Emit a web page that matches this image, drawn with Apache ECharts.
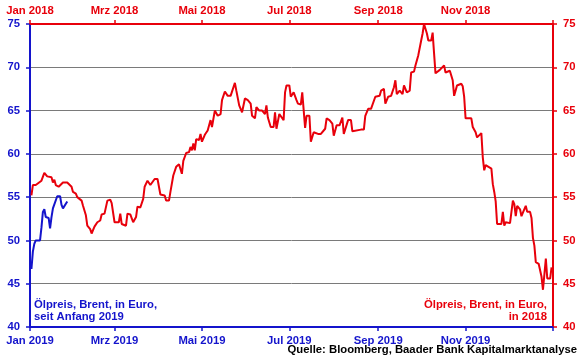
<!DOCTYPE html>
<html>
<head>
<meta charset="utf-8">
<script src="https://cdn.jsdelivr.net/npm/echarts@6/dist/echarts.min.js"></script>
<style>html,body{margin:0;padding:0;background:#fff;}#c{width:580px;height:359px;}</style>
</head>
<body>
<div id="c"></div>
<script>
// 2018 Brent oil price in EUR (red, top/right axes)
const red2018 = [
['2018-01-02',55.2],['2018-01-03',56.4],['2018-01-04',56.2],['2018-01-05',56.4],['2018-01-09',56.9],
['2018-01-11',57.8],['2018-01-13',57.4],['2018-01-16',57.3],['2018-01-17',56.7],['2018-01-18',57.0],
['2018-01-19',56.4],['2018-01-21',56.2],['2018-01-24',56.7],['2018-01-27',56.7],['2018-01-30',56.2],
['2018-01-31',55.6],['2018-02-02',55.4],['2018-02-03',55.0],['2018-02-06',54.6],['2018-02-07',54.0],
['2018-02-09',52.9],['2018-02-10',51.7],['2018-02-12',51.3],['2018-02-13',50.8],['2018-02-15',51.6],
['2018-02-17',52.1],['2018-02-19',52.3],['2018-02-20',53.0],['2018-02-22',53.1],['2018-02-24',54.6],
['2018-02-26',54.7],['2018-02-27',54.3],['2018-03-01',52.1],['2018-03-04',52.1],['2018-03-05',53.1],
['2018-03-06',51.9],['2018-03-09',51.7],['2018-03-10',53.1],['2018-03-12',53.0],['2018-03-14',52.1],
['2018-03-16',52.7],['2018-03-17',53.9],['2018-03-19',53.8],['2018-03-21',54.8],['2018-03-22',56.2],
['2018-03-24',56.9],['2018-03-25',56.9],['2018-03-26',56.4],['2018-03-29',57.1],['2018-03-31',57.1],
['2018-04-01',57.0],['2018-04-02',55.3],['2018-04-05',55.2],['2018-04-06',54.6],['2018-04-08',54.6],
['2018-04-09',55.6],['2018-04-11',57.5],['2018-04-13',58.5],['2018-04-15',58.8],['2018-04-17',57.7],
['2018-04-18',59.2],['2018-04-20',60.1],['2018-04-22',60.2],['2018-04-23',60.8],['2018-04-24',60.4],
['2018-04-25',61.2],['2018-04-26',60.4],['2018-04-27',61.7],['2018-04-29',61.6],['2018-04-30',62.3],
['2018-05-01',61.4],['2018-05-03',62.2],['2018-05-05',62.7],['2018-05-06',62.6],['2018-05-07',63.9],
['2018-05-08',63.1],['2018-05-10',65.0],['2018-05-12',64.4],['2018-05-14',64.6],['2018-05-15',66.2],
['2018-05-17',67.2],['2018-05-19',66.7],['2018-05-21',66.7],['2018-05-24',68.2],['2018-05-25',67.3],
['2018-05-27',65.6],['2018-05-28',65.5],['2018-05-29',64.8],['2018-05-31',66.4],['2018-06-02',66.2],
['2018-06-04',65.8],['2018-06-05',64.4],['2018-06-07',64.1],['2018-06-08',65.4],['2018-06-10',65.0],
['2018-06-12',65.0],['2018-06-14',64.6],['2018-06-15',65.6],['2018-06-16',64.2],['2018-06-18',63.1],
['2018-06-20',63.1],['2018-06-21',64.8],['2018-06-22',62.9],['2018-06-24',64.6],['2018-06-25',64.6],
['2018-06-27',63.9],['2018-06-28',67.1],['2018-06-29',67.9],['2018-07-01',67.9],['2018-07-02',66.6],
['2018-07-04',67.1],['2018-07-06',66.2],['2018-07-07',65.8],['2018-07-09',65.7],['2018-07-10',67.1],
['2018-07-12',63.0],['2018-07-13',64.4],['2018-07-15',64.4],['2018-07-16',61.4],['2018-07-18',62.5],
['2018-07-21',62.3],['2018-07-23',62.3],['2018-07-26',62.9],['2018-07-27',64.1],['2018-07-29',63.9],
['2018-07-30',64.0],['2018-07-31',63.5],['2018-08-01',62.1],['2018-08-03',63.3],['2018-08-05',63.3],
['2018-08-07',64.2],['2018-08-08',62.3],['2018-08-11',63.9],['2018-08-13',63.9],['2018-08-14',62.6],
['2018-08-20',62.8],['2018-08-22',62.8],['2018-08-23',64.4],['2018-08-25',65.2],['2018-08-27',65.2],
['2018-08-28',65.0],['2018-08-30',66.6],['2018-09-02',66.7],['2018-09-03',67.3],['2018-09-05',67.5],
['2018-09-06',65.8],['2018-09-08',66.6],['2018-09-10',66.7],['2018-09-12',67.7],['2018-09-13',68.5],
['2018-09-14',66.9],['2018-09-16',67.3],['2018-09-18',66.9],['2018-09-19',67.9],['2018-09-21',67.1],
['2018-09-23',67.3],['2018-09-24',69.4],['2018-09-26',69.5],['2018-09-27',70.2],['2018-09-29',71.4],
['2018-09-30',71.4],['2018-10-01',73.1],['2018-10-02',73.9],['2018-10-03',75.0],['2018-10-05',73.9],
['2018-10-06',73.1],['2018-10-08',73.1],['2018-10-09',74.0],['2018-10-10',71.6],['2018-10-11',69.3],
['2018-10-14',69.7],['2018-10-15',69.7],['2018-10-17',70.2],['2018-10-18',69.4],['2018-10-21',69.6],
['2018-10-22',69.7],['2018-10-23',68.5],['2018-10-24',66.7],['2018-10-25',67.3],['2018-10-26',67.9],
['2018-10-29',68.1],['2018-10-30',67.8],['2018-10-31',66.6],['2018-11-01',64.1],['2018-11-05',64.1],
['2018-11-06',63.1],['2018-11-08',62.5],['2018-11-09',61.9],['2018-11-12',62.4],['2018-11-13',59.6],
['2018-11-14',58.1],['2018-11-15',58.7],['2018-11-17',58.5],['2018-11-19',58.3],['2018-11-20',56.5],
['2018-11-21',55.6],['2018-11-22',54.5],['2018-11-23',51.9],['2018-11-26',51.9],['2018-11-27',53.3],
['2018-11-28',51.7],['2018-11-29',52.1],['2018-12-02',52.0],['2018-12-04',54.6],['2018-12-05',54.2],
['2018-12-06',52.8],['2018-12-07',54.0],['2018-12-09',53.6],['2018-12-10',52.8],['2018-12-11',53.2],
['2018-12-13',54.0],['2018-12-14',53.3],['2018-12-16',53.3],['2018-12-17',52.6],['2018-12-18',50.3],
['2018-12-19',49.4],['2018-12-20',47.5],['2018-12-22',47.3],['2018-12-24',45.8],['2018-12-25',44.3],
['2018-12-26',44.3],['2018-12-27',47.9],['2018-12-28',45.6],['2018-12-30',45.6],['2018-12-31',46.9]
];
// 2019 Brent oil price in EUR (blue, bottom/left axes)
const blue2019 = [
['2019-01-02',46.7],['2019-01-03',48.7],['2019-01-04',49.6],['2019-01-05',50.0],['2019-01-08',50.0],
['2019-01-09',51.5],['2019-01-10',53.3],['2019-01-11',53.6],['2019-01-12',52.7],['2019-01-14',52.6],
['2019-01-15',51.4],['2019-01-16',52.7],['2019-01-17',53.7],['2019-01-18',53.9],['2019-01-20',55.1],
['2019-01-22',55.1],['2019-01-23',54.1],['2019-01-24',53.7],['2019-01-27',54.5]
];
const labelDates2018 = ['2018-01-01','2018-03-01','2018-05-01','2018-07-01','2018-09-01','2018-11-01'];
const labelTexts2018 = ['Jan 2018','Mrz 2018','Mai 2018','Jul 2018','Sep 2018','Nov 2018'];
const labelDates2019 = ['2019-01-01','2019-03-01','2019-05-01','2019-07-01','2019-09-01','2019-11-01'];
const labelTexts2019 = ['Jan 2019','Mrz 2019','Mai 2019','Jul 2019','Sep 2019','Nov 2019'];
const yTicks = [40,45,50,55,60,65,70,75];

const RED = '#e8000b', BLUE = '#1414cc', FONT = 'Liberation Sans', FS = 11.3;
const ts = s => { const p = s.split('-').map(Number); return Date.UTC(p[0], p[1]-1, p[2]); };
const toTs = arr => arr.map(d => [ts(d[0]), d[1]]);

function dateAxis(pos, color, dates, texts, start, end) {
  const lt = dates.map(ts);
  return {
    type: 'value', position: pos, min: ts(start), max: ts(end), scale: true,
    axisLine: { show: true, onZero: false, lineStyle: { color: color, width: 2 } },
    axisTick: { show: true, inside: false, length: 4, customValues: lt.concat([ts(end)]), lineStyle: { color: color, width: 1.5 } },
    axisLabel: { show: true, customValues: lt, margin: 8, color: color, fontFamily: FONT, fontWeight: 'bold', fontSize: FS,
      showMinLabel: true, showMaxLabel: true, hideOverlap: false,
      formatter: v => { const i = lt.indexOf(v); return i >= 0 ? texts[i] : ''; } },
    splitLine: { show: false }, minorTick: { show: false }
  };
}
function valueAxis(pos, color, grid) {
  return {
    type: 'value', position: pos, min: yTicks[0], max: yTicks[yTicks.length-1], interval: 5,
    axisLine: { show: true, onZero: false, lineStyle: { color: color, width: 2 } },
    axisTick: { show: true, inside: false, length: 4, lineStyle: { color: color, width: 1.5 } },
    axisLabel: { margin: 10, color: color, fontFamily: FONT, fontWeight: 'bold', fontSize: FS },
    splitLine: { show: grid, lineStyle: { color: '#7a7a7a', width: 1 } }
  };
}

const chart = echarts.init(document.getElementById('c'), null, { renderer: 'canvas' });
chart.setOption({
  animation: false,
  backgroundColor: '#ffffff',
  grid: { left: 30, right: 27, top: 24, bottom: 32, containLabel: false },
  xAxis: [
    dateAxis('top', RED, labelDates2018, labelTexts2018, '2018-01-01', '2019-01-01'),
    dateAxis('bottom', BLUE, labelDates2019, labelTexts2019, '2019-01-01', '2020-01-01')
  ],
  yAxis: [ valueAxis('left', BLUE, true), valueAxis('right', RED, false) ],
  series: [
    { name: 'Ölpreis, Brent, in Euro, in 2018', type: 'line', xAxisIndex: 0, yAxisIndex: 1, data: toTs(red2018),
      showSymbol: false, symbol: 'none', lineStyle: { color: RED, width: 2 }, z: 3 },
    { name: 'Ölpreis, Brent, in Euro, seit Anfang 2019', type: 'line', xAxisIndex: 1, yAxisIndex: 0, data: toTs(blue2019),
      showSymbol: false, symbol: 'none', lineStyle: { color: BLUE, width: 2 }, z: 4 }
  ],
  graphic: [
    { type: 'text', left: 34, top: 299, style: { text: 'Ölpreis, Brent, in Euro,\nseit Anfang 2019', fill: BLUE,
      font: 'bold ' + FS + 'px "' + FONT + '"', lineHeight: 12, textAlign: 'left' } },
    { type: 'text', right: 33, top: 299, style: { text: 'Ölpreis, Brent, in Euro,\nin 2018', fill: RED,
      font: 'bold ' + FS + 'px "' + FONT + '"', lineHeight: 12, textAlign: 'right' } },
    { type: 'text', right: 3, top: 344, style: { text: 'Quelle: Bloomberg, Baader Bank Kapitalmarktanalyse', fill: '#000000',
      font: 'bold ' + FS + 'px "' + FONT + '"', textAlign: 'right' } }
  ]
});
</script>
</body>
</html>
